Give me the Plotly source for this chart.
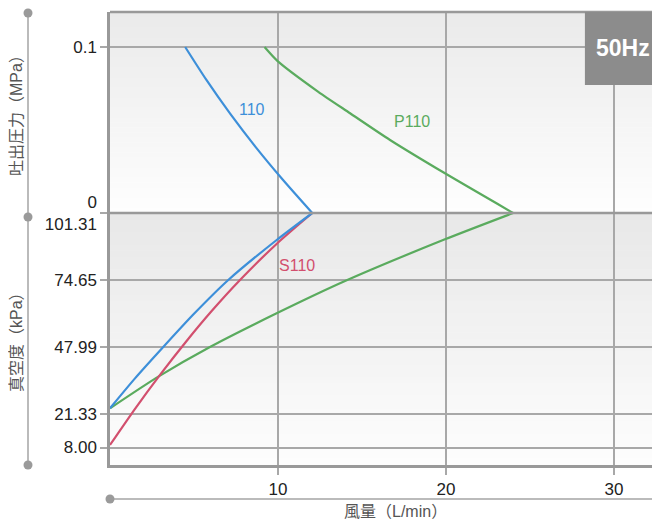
import plotly.graph_objects as go

# ---------------- data ----------------
# discharge pressure side (MPa)
flow_110_p = [4.475, 5.75, 7.14, 8.65, 10.29, 12.04]
pres_110 = [0.1, 0.08, 0.06, 0.04, 0.02, 0.0]
flow_p110_p = [9.2, 9.98, 12.4, 14.29, 16.67, 19.94, 24.0]
pres_p110 = [0.1, 0.0915, 0.073, 0.0601, 0.044, 0.0239, 0.0]

# vacuum side (kPa)
flow_110_v = [0, 1.5, 3.17, 5.0, 7.04, 9.92, 12.04]
vac_110 = [23.6, 35.6, 47.99, 61.2, 74.65, 90.57, 101.31]
flow_p110_v = [0, 2.875, 5.95, 9.92, 13.99, 19.94, 24.0]
vac_p110 = [23.6, 36.2, 47.99, 61.4, 74.25, 90.84, 101.31]
flow_s110_v = [0, 1.5, 3.0, 4.5, 6.0, 7.74, 9.9, 12.04]
vac_s110 = [9.0, 23.5, 37.1, 49.9, 61.9, 74.65, 88.9, 101.31]

x_ticks = [10, 20, 30]
vac_ticks = [8.00, 21.33, 47.99, 74.65, 101.31]
vac_ticktext = ["8.00", "21.33", "47.99", "74.65", "&nbsp;<br>101.31"]
pres_ticks = [0, 0.1]
pres_ticktext = ["0<br>&nbsp;", "0.1"]

series_names = ["110", "P110", "S110"]
BLUE, GREEN, RED = "#3d8fd9", "#5aab5e", "#d24f6e"

FONT = "Liberation Sans, Noto Sans CJK JP, sans-serif"
GRID = "#a8a8a8"
FRAME = "#999999"

# page body has an 8px default margin: figure is sized so it lands at the
# reference's pixel positions inside the 660x525 window
W, H = 652, 517
ML, MT, MB = 102, 4, 60
PW, PH = W - ML, H - MT - MB          # 550 x 453 plot area

def px_x(px):   # window pixel x -> paper x
    return (px - 8 - ML) / PW

def px_y(py):   # window pixel y -> paper y
    return (8 + MT + PH - py) / PH

fig = go.Figure()

line_w = 2.2
sm = 0.7
fig.add_trace(go.Scatter(x=flow_110_p, y=pres_110, yaxis="y2", mode="lines",
                         line=dict(color=BLUE, width=line_w, shape="spline", smoothing=sm),
                         showlegend=False, hoverinfo="skip"))
fig.add_trace(go.Scatter(x=flow_p110_p, y=pres_p110, yaxis="y2", mode="lines",
                         line=dict(color=GREEN, width=line_w, shape="spline", smoothing=sm),
                         showlegend=False, hoverinfo="skip"))
fig.add_trace(go.Scatter(x=flow_p110_v, y=vac_p110, yaxis="y", mode="lines",
                         line=dict(color=GREEN, width=line_w, shape="spline", smoothing=sm),
                         showlegend=False, hoverinfo="skip"))
fig.add_trace(go.Scatter(x=flow_s110_v, y=vac_s110, yaxis="y", mode="lines",
                         line=dict(color=RED, width=line_w, shape="spline", smoothing=sm),
                         showlegend=False, hoverinfo="skip"))
fig.add_trace(go.Scatter(x=flow_110_v, y=vac_110, yaxis="y", mode="lines",
                         line=dict(color=BLUE, width=line_w, shape="spline", smoothing=sm),
                         showlegend=False, hoverinfo="skip"))

split = 252 / 453.0

shapes = []
# gradient backgrounds
N = 40
def lerp(a, b, t):
    return int(round(a + (b - a) * t))
for ref, top, bot in (("y2 domain", 0xea, 0xfe), ("y domain", 0xe8, 0xfd)):
    for i in range(N):
        t = i / (N - 1)
        c = lerp(bot, top, t)
        shapes.append(dict(type="rect", xref="x domain", yref=ref,
                           x0=0, x1=1, y0=i / N, y1=(i + 1) / N + 0.002,
                           fillcolor=f"rgb({c},{c},{c})", line=dict(width=0),
                           layer="below"))

# middle separator and top frame
shapes.append(dict(type="line", xref="paper", yref="paper", x0=0, x1=1,
                   y0=split, y1=split, line=dict(color=FRAME, width=2.5), layer="above"))
shapes.append(dict(type="line", xref="paper", yref="paper", x0=0, x1=1,
                   y0=1, y1=1, line=dict(color=FRAME, width=2.5), layer="above"))

# 50Hz box
shapes.append(dict(type="rect", xref="x", yref="y2", x0=28.27, x1=32.74,
                   y0=0.0771, y1=0.1211, fillcolor="#8c8c8c",
                   line=dict(width=0), layer="above"))

# decorative left axis line with dots
lx = px_x(28)
shapes.append(dict(type="line", xref="paper", yref="paper", x0=lx, x1=lx,
                   y0=px_y(13), y1=px_y(465), line=dict(color="#a5a5a5", width=1.5)))
for py in (13, 217, 465):
    yp = px_y(py)
    shapes.append(dict(type="circle", xref="paper", yref="paper",
                       xsizemode="pixel", ysizemode="pixel",
                       xanchor=lx, yanchor=yp, x0=-4.5, x1=4.5, y0=-4.5, y1=4.5,
                       fillcolor="#9a9a9a", line=dict(width=0)))
# decorative bottom line with dots
by = px_y(499)
shapes.append(dict(type="line", xref="paper", yref="paper", x0=0, x1=1,
                   y0=by, y1=by, line=dict(color="#a5a5a5", width=1.5)))
for xp in (0, 1):
    shapes.append(dict(type="circle", xref="paper", yref="paper",
                       xsizemode="pixel", ysizemode="pixel",
                       xanchor=xp, yanchor=by, x0=-4.5, x1=4.5, y0=-4.5, y1=4.5,
                       fillcolor="#9a9a9a", line=dict(width=0)))

annotations = [
    dict(text="50Hz", x=30.54, y=0.0994, xref="x", yref="y2", showarrow=False,
         xanchor="center", yanchor="middle",
         font=dict(family=FONT, size=23, color="white", weight="bold")),
    dict(text=series_names[0], x=8.43, y=0.0624, xref="x", yref="y2", showarrow=False,
         xanchor="center", yanchor="middle",
         font=dict(family=FONT, size=16, color=BLUE)),
    dict(text=series_names[1], x=17.95, y=0.055, xref="x", yref="y2", showarrow=False,
         xanchor="center", yanchor="middle",
         font=dict(family=FONT, size=16, color=GREEN)),
    dict(text=series_names[2], x=11.11, y=80.6, xref="x", yref="y", showarrow=False,
         xanchor="center", yanchor="middle",
         font=dict(family=FONT, size=16, color=RED)),
    dict(text="吐出圧力（MPa）", x=px_x(16), y=px_y(112),
         xref="paper", yref="paper", showarrow=False, textangle=-90,
         xanchor="center", yanchor="middle",
         font=dict(family=FONT, size=16, color="#555555")),
    dict(text="真空度（kPa）", x=px_x(16), y=px_y(338),
         xref="paper", yref="paper", showarrow=False, textangle=-90,
         xanchor="center", yanchor="middle",
         font=dict(family=FONT, size=16, color="#555555")),
    dict(text="風量（L/min）", x=px_x(395), y=px_y(511),
         xref="paper", yref="paper", showarrow=False,
         xanchor="center", yanchor="middle",
         font=dict(family=FONT, size=16, color="#555555")),
]

axis_common = dict(showgrid=True, gridcolor=GRID, gridwidth=1.5, zeroline=False,
                   ticks="outside", ticklen=7, tickcolor=GRID, tickwidth=1.5,
                   showline=True, linecolor=FRAME, linewidth=2.5, automargin=False,
                   tickfont=dict(family=FONT, size=17, color="#222222"))

fig.update_layout(
    width=W, height=H,
    margin=dict(l=ML, r=0, t=MT, b=MB, autoexpand=False),
    paper_bgcolor="white", plot_bgcolor="white",
    showlegend=False,
    xaxis=dict(range=[0, 32.74], tickvals=x_ticks, anchor="y", **axis_common),
    yaxis=dict(domain=[0, split], range=[1.04, 101.31], tickvals=vac_ticks,
               ticktext=vac_ticktext, anchor="x", **axis_common),
    yaxis2=dict(domain=[split, 1], range=[0, 0.12108], tickvals=pres_ticks,
                ticktext=pres_ticktext, anchor="x", **axis_common),
    shapes=shapes,
    annotations=annotations,
)

fig.write_html("out.html")
